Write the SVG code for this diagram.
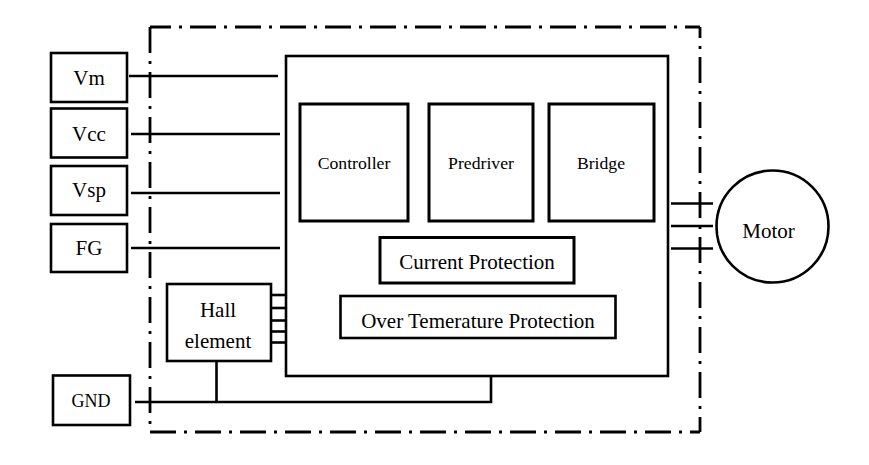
<svg xmlns="http://www.w3.org/2000/svg" width="869" height="465" viewBox="0 0 869 465" font-family="'Liberation Serif', 'DejaVu Serif', serif">
<style>
.box{fill:#fff;stroke:#000;stroke-width:2.6}
.ln{fill:none;stroke:#000;stroke-width:2.6}
.dd{fill:none;stroke:#000;stroke-width:2.8;stroke-dasharray:26 8 3 8}
text{font-family:'Liberation Serif','DejaVu Serif',serif;font-size:21px;fill:#000;text-anchor:middle}
.sm{font-size:17.7px}
</style>
<rect width="869" height="465" fill="#fff"/>
<g id="boundary">
<line class="dd" x1="150" y1="27" x2="700" y2="27" stroke-dashoffset="5"/>
<line class="dd" x1="700" y1="27" x2="700" y2="432" stroke-dashoffset="15"/>
<line class="dd" x1="150" y1="432" x2="700" y2="432"/>
<line class="dd" x1="150" y1="27" x2="150" y2="432"/>
</g>
<g id="connectors">
<line class="ln" x1="129" y1="76" x2="278" y2="76"/>
<line class="ln" x1="131" y1="134" x2="280" y2="134"/>
<line class="ln" x1="131" y1="193" x2="280" y2="193"/>
<line class="ln" x1="131" y1="248" x2="280" y2="248"/>
<line class="ln" x1="271" y1="295" x2="286" y2="295"/>
<line class="ln" x1="271" y1="308" x2="286" y2="308"/>
<line class="ln" x1="271" y1="320.5" x2="286" y2="320.5"/>
<line class="ln" x1="271" y1="331.5" x2="286" y2="331.5"/>
<line class="ln" x1="271" y1="342.5" x2="286" y2="342.5"/>
<polyline class="ln" points="135,402 491,402 491,376"/>
<line class="ln" x1="216.5" y1="361" x2="216.5" y2="402"/>
<line class="ln" x1="671" y1="203.5" x2="713" y2="203.5"/>
<line class="ln" x1="671" y1="226" x2="713" y2="226"/>
<line class="ln" x1="671" y1="248.5" x2="713" y2="248.5"/>
</g>
<g id="main"><rect class="box" x="286" y="56" width="382" height="320"/></g>
<g id="vm"><rect class="box" x="51" y="53" width="76" height="49"/><text x="89" y="85">Vm</text></g>
<g id="vcc"><rect class="box" x="51" y="108.5" width="76" height="49"/><text x="89" y="140.5">Vcc</text></g>
<g id="vsp"><rect class="box" x="51" y="166" width="76" height="49"/><text x="89" y="197">Vsp</text></g>
<g id="fg"><rect class="box" x="51" y="224" width="76" height="48"/><text x="89" y="255">FG</text></g>
<g id="gnd"><rect class="box" x="53" y="375.5" width="77" height="49.5"/><text x="91" y="407" style="font-size:18px">GND</text></g>
<g id="controller"><rect class="box" x="300" y="104" width="108" height="117" style="stroke-width:3"/><text class="sm" x="354" y="169">Controller</text></g>
<g id="predriver"><rect class="box" x="429" y="104" width="104" height="117" style="stroke-width:3"/><text class="sm" x="481" y="169">Predriver</text></g>
<g id="bridge"><rect class="box" x="549" y="104" width="105" height="117" style="stroke-width:3"/><text class="sm" x="601" y="169">Bridge</text></g>
<g id="current"><rect class="box" x="380" y="237.5" width="194" height="45.5" style="stroke-width:3"/><text x="477" y="268.5">Current Protection</text></g>
<g id="overtemp"><rect class="box" x="340.5" y="296" width="275" height="42"/><text x="478" y="327.5">Over Temerature Protection</text></g>
<g id="hall"><rect class="box" x="167" y="284" width="104" height="77"/><text x="218" y="317">Hall</text><text x="218" y="348">element</text></g>
<g id="motor"><circle class="box" cx="772.5" cy="226.5" r="56"/><text x="768.5" y="237.5">Motor</text></g>
</svg>
